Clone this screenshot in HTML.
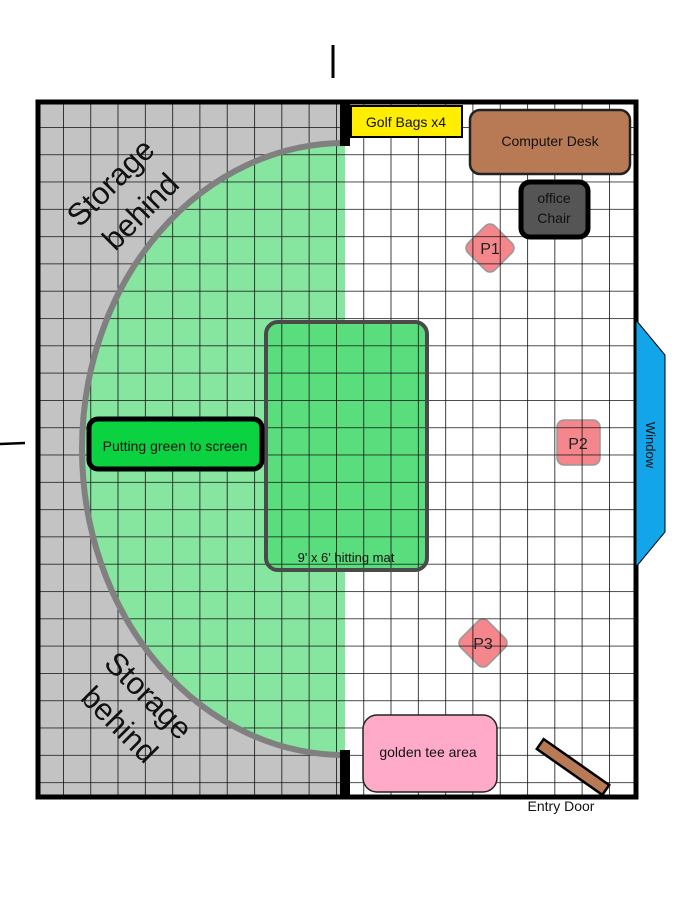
<!DOCTYPE html>
<html><head><meta charset="utf-8"><style>
html,body{margin:0;padding:0;background:#fff;}
svg{display:block;font-family:"Liberation Sans","DejaVu Sans",sans-serif;}
</style></head><body>
<svg width="695" height="900" viewBox="0 0 695 900" xmlns="http://www.w3.org/2000/svg">
<defs>
<pattern id="g" x="63" y="127" width="27.3" height="27.3" patternUnits="userSpaceOnUse">
<path d="M0 0V27.3M0 0H27.3" stroke="#111" stroke-width="1.6" fill="none"/>
</pattern>
<clipPath id="room"><rect x="40" y="104" width="595" height="692"/></clipPath>
</defs>
<rect width="695" height="900" fill="#fff"/>
<rect x="40" y="104" width="305" height="692" fill="#c3c3c3"/>
<path d="M345 143 A263 306 0 0 0 345 755 Z" fill="#86e59e"/>
<rect x="266" y="322" width="161" height="248" rx="12" fill="#5ade7d"/>
<rect x="471" y="229" width="38" height="38" rx="7" transform="rotate(45 490 248)" fill="#f4868c" stroke="#999" stroke-width="1.5"/>
<rect x="557" y="420" width="43" height="45" rx="7" fill="#f4868c" stroke="#999" stroke-width="1.5"/>
<rect x="464" y="624" width="38" height="38" rx="7" transform="rotate(45 483 643)" fill="#f4868c" stroke="#999" stroke-width="1.5"/>
<rect x="40" y="104" width="595" height="692" fill="url(#g)" clip-path="url(#room)"/>
<path d="M345 143 A263 306 0 0 0 345 755" fill="none" stroke="#808080" stroke-width="6"/>
<rect x="266" y="322" width="161" height="248" rx="12" fill="none" stroke="#4a4a4a" stroke-width="4"/>
<text x="346" y="562" font-size="13" text-anchor="middle" fill="#111">9' x 6' hitting mat</text>
<rect x="89" y="419" width="173" height="50" rx="9" fill="#0ad240" stroke="#000" stroke-width="5"/>
<text x="175" y="451" font-size="14" text-anchor="middle" fill="#111">Putting green to screen</text>
<text x="490" y="254" font-size="16" text-anchor="middle" fill="#222">P1</text>
<text x="578" y="449" font-size="16" text-anchor="middle" fill="#222">P2</text>
<text x="483" y="649" font-size="16" text-anchor="middle" fill="#222">P3</text>
<rect x="38" y="102" width="598" height="695" fill="none" stroke="#000" stroke-width="5"/>
<rect x="340" y="104" width="10" height="42" fill="#000"/>
<rect x="340" y="750" width="10" height="47" fill="#000"/>
<line x1="333" y1="45" x2="333" y2="78" stroke="#000" stroke-width="3"/>
<line x1="0" y1="444" x2="25" y2="443" stroke="#000" stroke-width="2.5"/>
<rect x="351" y="106" width="111" height="31" fill="#ffee00" stroke="#000" stroke-width="2"/>
<text x="406" y="127" font-size="14" text-anchor="middle" fill="#111">Golf Bags x4</text>
<rect x="470" y="110" width="160" height="64" rx="10" fill="#b87a55" stroke="#222" stroke-width="2.5"/>
<text x="550" y="146" font-size="14" text-anchor="middle" fill="#111">Computer Desk</text>
<rect x="521" y="182" width="67" height="55" rx="9" fill="#555" stroke="#000" stroke-width="5"/>
<text x="554" y="203" font-size="14" text-anchor="middle" fill="#111">office</text>
<text x="554" y="223" font-size="14" text-anchor="middle" fill="#111">Chair</text>
<rect x="363" y="715" width="134" height="77" rx="14" fill="#ffaac8" stroke="#222" stroke-width="1.5"/>
<text x="428" y="757" font-size="14" text-anchor="middle" fill="#111">golden tee area</text>
<rect x="533" y="761" width="80" height="12" fill="#b87a55" stroke="#000" stroke-width="2.5" transform="rotate(35 573 767)"/>
<text x="561" y="811" font-size="14" text-anchor="middle" fill="#111">Entry Door</text>
<polygon points="636,320 665,355 665,532 636,567" fill="#13a5ea" stroke="#000" stroke-width="1"/>
<text x="0" y="0" font-size="13" text-anchor="middle" fill="#111" transform="translate(646 445) rotate(90)">Window</text>
<text font-size="31" fill="#111" text-anchor="middle" transform="translate(118 190) rotate(-45)">Storage</text>
<text font-size="31" fill="#111" text-anchor="middle" transform="translate(148 219) rotate(-45)">behind</text>
<text font-size="31" fill="#111" text-anchor="middle" transform="translate(141 703) rotate(45)">Storage</text>
<text font-size="31" fill="#111" text-anchor="middle" transform="translate(112 732) rotate(45)">behind</text>
</svg>
</body></html>
